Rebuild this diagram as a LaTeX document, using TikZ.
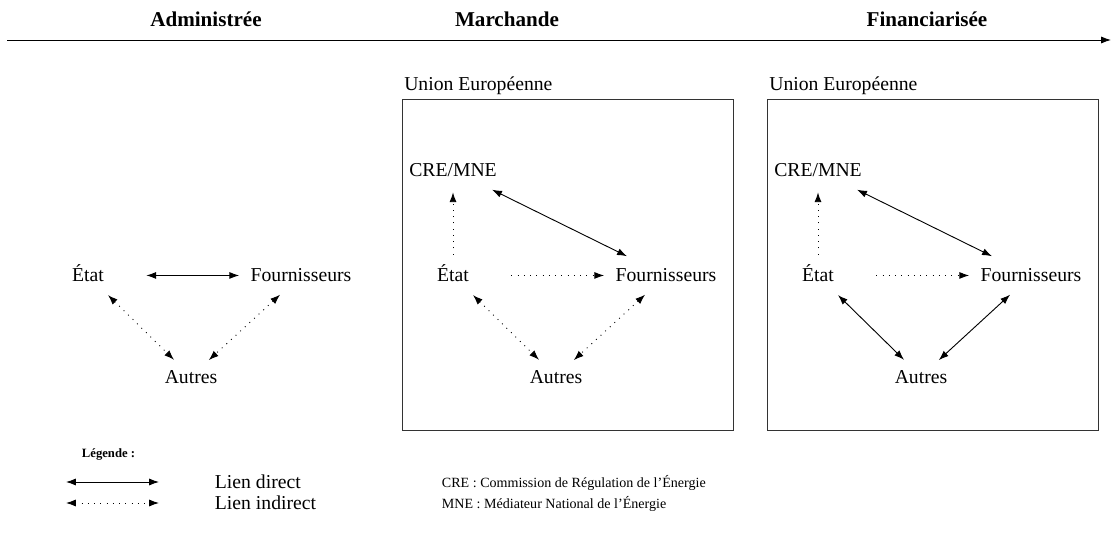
\documentclass[tikz,border=0pt]{standalone}
\usepackage{fontspec}
\setmainfont{Liberation Serif}
\usetikzlibrary{arrows.meta}

\begin{document}
\begin{tikzpicture}[x=0.025cm,y=-0.025cm,>={Latex[length=7pt,width=5pt]}]
        \tikzstyle{titre}=[anchor=base,font=\fontsize{15}{18}\selectfont\bfseries]
        \tikzstyle{acteur}=[anchor=base,inner sep=0pt,text height=9.3pt,text depth=0pt,font=\fontsize{14}{16}\selectfont]
        \tikzstyle{zone}=[draw=black!80,line width=0.7pt]
        \tikzstyle{direct}=[draw,line width=0.65pt]
        \tikzstyle{indirect}=[draw,line width=0.65pt,dash pattern=on 0.65pt off 3.8pt]
        \tikzstyle{horiz}=[shorten <=30pt,shorten >=8pt]
        \tikzstyle{diag}=[shorten <=13pt,shorten >=10pt]
        \tikzstyle{vert}=[shorten <=10pt,shorten >=10.7pt]
        \tikzstyle{haut}=[shorten <=20pt,shorten >=20pt]
        \useasboundingbox (0,0) rectangle (1112,544);
        % axe des periodes
        \coordinate (debut) at (7,40);
        \coordinate (fin) at (1111,40);
        \draw [->,line width=0.65pt] (debut) -- (fin);
        \node [titre] (admin) at (206,27) {Administrée};
        \node [titre] (march) at (507,27) {Marchande};
        \node [titre] (finan) at (927,27) {Financiarisée};
        % administree
        \begin{scope}
          \node [acteur] (etat1) at (88,282) {État};
          \node [acteur] (four1) at (301,282) {Fournisseurs};
          \node [acteur] (autres1) at (191,383) {Autres};
          \path[direct,<->] (etat1) edge [horiz] (four1);
          \path[indirect,<->] (etat1) edge [diag] (autres1);
          \path[indirect,<->] (four1) edge [diag] (autres1);
        \end{scope}
        % marchande
        \begin{scope}[shift={(365,0)}]
          \draw [zone] (37,99) rectangle (368,430);
          \node [acteur,anchor=base west] (ue2) at (39,91) {Union Européenne};
          \node [acteur] (cre2) at (88,177) {CRE/MNE};
          \node [acteur] (etat2) at (88,282) {État};
          \node [acteur] (four2) at (301,282) {Fournisseurs};
          \node [acteur] (autres2) at (191,383) {Autres};
          \path[indirect,->] (etat2) edge [horiz] (four2);
          \path[indirect,->] (etat2) edge [vert] (cre2);
          \path[direct,<->] (cre2) edge [haut] (four2);
          \path[indirect,<->] (etat2) edge [diag] (autres2);
          \path[indirect,<->] (four2) edge [diag] (autres2);
        \end{scope}
        % financiarisee
        \begin{scope}[shift={(730,0)}]
          \draw [zone] (37,99) rectangle (368,430);
          \node [acteur,anchor=base west] (ue3) at (39,91) {Union Européenne};
          \node [acteur] (cre3) at (88,177) {CRE/MNE};
          \node [acteur] (etat3) at (88,282) {État};
          \node [acteur] (four3) at (301,282) {Fournisseurs};
          \node [acteur] (autres3) at (191,383) {Autres};
          \path[indirect,->] (etat3) edge [horiz] (four3);
          \path[indirect,->] (etat3) edge [vert] (cre3);
          \path[direct,<->] (cre3) edge [haut] (four3);
          \path[direct,<->] (etat3) edge [diag] (autres3);
          \path[direct,<->] (four3) edge [diag] (autres3);
        \end{scope}
        % legende
        \node [anchor=base west,font=\fontsize{9}{11}\selectfont\bfseries] (legende) at (77,457) {Légende :};
        \coordinate (d1) at (66,482);
        \coordinate (d2) at (159,482);
        \coordinate (i1) at (66,503);
        \coordinate (i2) at (159,503);
        \draw [direct,<->] (d1) -- (d2);
        \draw [indirect,<->] (i1) -- (i2);
        \node [anchor=base west,font=\fontsize{14}{16}\selectfont] (ldirect) at (210,488) {Lien direct};
        \node [anchor=base west,font=\fontsize{14}{16}\selectfont] (lindirect) at (210,509) {Lien indirect};
        \node [anchor=base west,font=\fontsize{10}{12}\selectfont] (scre) at (437,487) {CRE : Commission de Régulation de l’Énergie};
        \node [anchor=base west,font=\fontsize{10}{12}\selectfont] (smne) at (437,508) {MNE : Médiateur National de l’Énergie};
\end{tikzpicture}
\end{document}
